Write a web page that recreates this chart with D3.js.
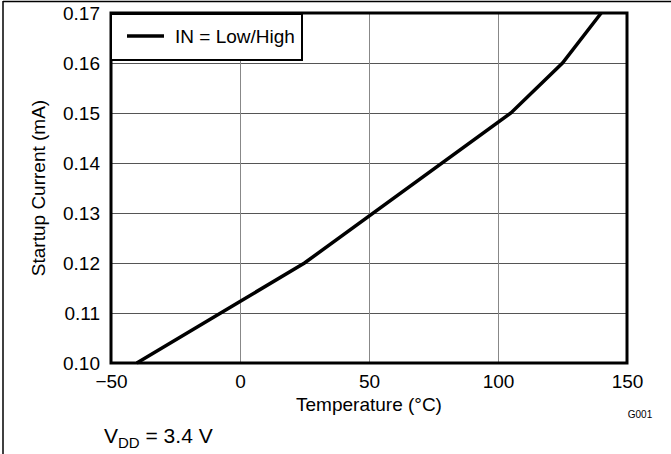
<!DOCTYPE html>
<html>
<head>
<meta charset="utf-8">
<script src="https://cdn.jsdelivr.net/npm/d3@7"></script>
<style>
  html, body { margin: 0; padding: 0; background: #fff; }
  svg { display: block; font-family: "Liberation Sans", Arial, sans-serif; }
</style>
</head>
<body>
<svg id="chart" width="671" height="454"></svg>
<script>
// Data
const temperatures = [-40, 0, 25, 105, 125, 140];
const startupCurrent = [0.100, 0.1123, 0.120, 0.150, 0.160, 0.170];
const xTicks = [-50, 0, 50, 100, 150];
const yTicks = [0.10, 0.11, 0.12, 0.13, 0.14, 0.15, 0.16, 0.17];
const seriesName = "IN = Low/High";
const xTitle = "Temperature (°C)";
const yTitle = "Startup Current (mA)";

const svg = d3.select("#chart");
const L = 111, R = 627, T = 13, B = 363;
const FS = 19;

const x = d3.scaleLinear().domain([-50, 150]).range([L, R]);
const y = d3.scaleLinear().domain([0.10, 0.17]).range([B, T]);

// Outer frame (top and left)
svg.append("line").attr("x1", 3).attr("x2", 671).attr("y1", 1.5).attr("y2", 1.5)
  .attr("stroke", "#000").attr("stroke-width", 1.5);
svg.append("line").attr("x1", 3).attr("x2", 3).attr("y1", 1).attr("y2", 454)
  .attr("stroke", "#000").attr("stroke-width", 1.5);

// Grid
svg.append("g").selectAll("line").data(yTicks).join("line")
  .attr("x1", L).attr("x2", R)
  .attr("y1", d => Math.round(y(d)) + 0.5).attr("y2", d => Math.round(y(d)) + 0.5)
  .attr("stroke", "#555").attr("stroke-width", 1);
svg.append("g").selectAll("line").data(xTicks).join("line")
  .attr("y1", T).attr("y2", B)
  .attr("x1", d => Math.round(x(d)) + 0.5).attr("x2", d => Math.round(x(d)) + 0.5)
  .attr("stroke", "#888").attr("stroke-width", 1);

// Axes (labels via d3 axis, no tick lines)
const xAxis = d3.axisBottom(x).tickValues(xTicks).tickSize(0).tickPadding(12)
  .tickFormat(d => d < 0 ? "\u2212" + Math.abs(d) : d);
const gx = svg.append("g").attr("transform", `translate(0,${B})`).call(xAxis);
gx.select(".domain").remove();
gx.selectAll("text").attr("font-size", FS).attr("fill", "#000")
  .attr("font-family", "Liberation Sans, Arial, sans-serif");

const yAxis = d3.axisLeft(y).tickValues(yTicks).tickSize(0).tickPadding(11)
  .tickFormat(d3.format(".2f"));
const gy = svg.append("g").attr("transform", `translate(${L},0)`).call(yAxis);
gy.select(".domain").remove();
gy.selectAll("text").attr("font-size", FS).attr("fill", "#000")
  .attr("font-family", "Liberation Sans, Arial, sans-serif");

// Plot frame
svg.append("rect").attr("x", L).attr("y", T).attr("width", R - L).attr("height", B - T)
  .attr("fill", "none").attr("stroke", "#000").attr("stroke-width", 3);

// Data line
const pts = temperatures.map((t, i) => [t, startupCurrent[i]]);
svg.append("path").datum(pts)
  .attr("d", d3.line().x(d => x(d[0])).y(d => y(d[1])))
  .attr("fill", "none").attr("stroke", "#000").attr("stroke-width", 3.5)
  .attr("stroke-linejoin", "miter");

// Legend
const lg = svg.append("g");
lg.append("rect").attr("x", L).attr("y", T + 1).attr("width", 191).attr("height", 46)
  .attr("fill", "#fff").attr("stroke", "#000").attr("stroke-width", 2);
lg.append("line").attr("x1", 127).attr("x2", 164).attr("y1", 36).attr("y2", 36)
  .attr("stroke", "#000").attr("stroke-width", 3.5);
lg.append("text").attr("x", 175).attr("y", 43).attr("font-size", FS).text(seriesName);

// Axis titles
svg.append("text").attr("x", 369).attr("y", 411)
  .attr("text-anchor", "middle").attr("font-size", FS).text(xTitle);
svg.append("text").attr("transform", `translate(45,${(T + B) / 2}) rotate(-90)`)
  .attr("text-anchor", "middle").attr("font-size", FS).text(yTitle);

// Figure id
svg.append("text").attr("x", 640).attr("y", 418).attr("text-anchor", "middle")
  .attr("font-size", 10).text("G001");

// Condition note
const note = svg.append("text").attr("x", 104).attr("y", 443).attr("font-size", 21);
note.append("tspan").text("V");
note.append("tspan").attr("font-size", 15).attr("dy", 5).text("DD");
note.append("tspan").attr("dy", -5).text(" = 3.4 V");
</script>
</body>
</html>
